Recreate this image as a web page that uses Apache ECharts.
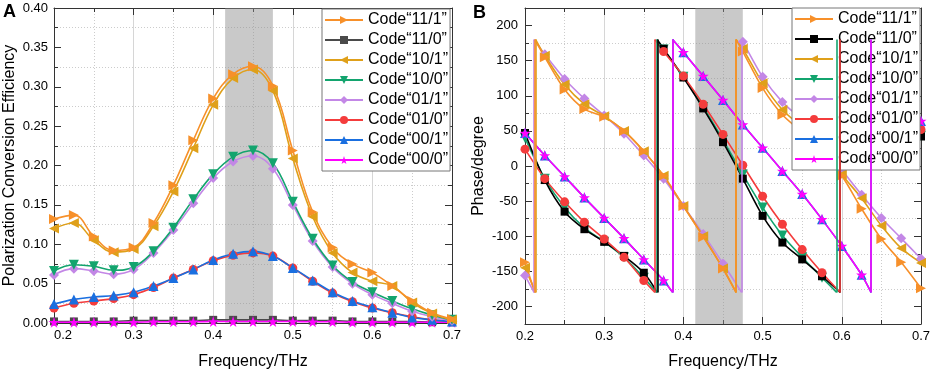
<!DOCTYPE html>
<html>
<head>
<meta charset="utf-8">
<script src="https://cdn.jsdelivr.net/npm/echarts@6/dist/echarts.min.js"></script>
<style>
html,body{margin:0;padding:0;background:#fff}
#main{width:934px;height:375px}
</style>
</head>
<body>
<div id="main"></div>
<script>
// frequency points (THz) where the markers sit
var freqs = [0.2,0.225,0.25,0.275,0.3,0.325,0.35,0.375,0.4,0.425,0.45,0.475,0.5,0.525,0.55,0.575,0.6,0.625,0.65,0.675,0.7];
var names = ['Code\u201c11/1\u201d','Code\u201c11/0\u201d','Code\u201c10/1\u201d','Code\u201c10/0\u201d','Code\u201c01/1\u201d','Code\u201c01/0\u201d','Code\u201c00/1\u201d','Code\u201c00/0\u201d'];
var band = [0.415, 0.475];

// A: polarization conversion efficiency
var eff11_1 = [0.132,0.137,0.110,0.092,0.096,0.127,0.175,0.232,0.285,0.316,0.326,0.301,0.219,0.141,0.096,0.075,0.064,0.047,0.028,0.013,0.005];
var eff11_0 = [0.002,0.002,0.002,0.002,0.003,0.003,0.003,0.003,0.004,0.004,0.004,0.004,0.003,0.003,0.003,0.002,0.002,0.002,0.002,0.001,0.001];
var eff10_1 = [0.120,0.127,0.105,0.090,0.094,0.123,0.167,0.222,0.277,0.311,0.322,0.295,0.209,0.135,0.089,0.064,0.053,0.047,0.026,0.012,0.004];
var eff10_0 = [0.066,0.074,0.072,0.067,0.071,0.091,0.121,0.157,0.189,0.211,0.219,0.203,0.154,0.107,0.073,0.052,0.039,0.028,0.018,0.010,0.004];
var eff01_1 = [0.061,0.069,0.066,0.062,0.068,0.089,0.118,0.152,0.184,0.205,0.212,0.196,0.150,0.104,0.071,0.050,0.036,0.025,0.015,0.008,0.003];
var eff01_0 = [0.019,0.025,0.028,0.031,0.036,0.045,0.057,0.068,0.079,0.086,0.089,0.085,0.070,0.053,0.038,0.027,0.019,0.013,0.008,0.004,0.002];
var eff00_1 = [0.024,0.030,0.033,0.035,0.039,0.047,0.057,0.068,0.080,0.088,0.091,0.085,0.070,0.054,0.039,0.028,0.020,0.013,0.007,0.004,0.002];
var eff00_0 = [0.001,0.001,0.001,0.001,0.001,0.0015,0.0015,0.0015,0.002,0.002,0.002,0.002,0.002,0.0015,0.0015,0.001,0.001,0.001,0.001,0.001,0.001];

// B: phase (degree), plus where each curve wraps from -180 to 180
var phase11_1 = [-137,155,109,81,70,50,21,-14,-57,-101,-146,163,111,73,48,20,-14,-61,-104,-137,-174];
var jump11_1 = [0.2125,0.4665];
var phase11_0 = [47,-20,-65,-90,-108,-128,-152,167,126,82,34,-18,-71,-109,-133,-157,177,142,110,76,42];
var jump11_0 = [0.367,0.598];
var phase10_1 = [-145,157,116,88,71,50,21,-14,-57,-100,-146,167,118,80,55,27,-12,-46,-85,-117,-138];
var jump10_1 = [0.2135,0.4665];
var phase10_0 = [40,-18,-59,-88,-108,-130,-159,166,127,84,37,-12,-59,-99,-130,-159,170,135,103,72,43];
var jump10_0 = [0.366,0.5935];
var phase01_1 = [-156,159,124,96,72,46,15,-18,-57,-97,-139,177,127,91,66,38,-5,-41,-74,-103,-132];
var jump01_1 = [0.2115,0.4735];
var phase01_0 = [24,-18,-51,-80,-104,-130,-163,163,128,88,45,1,-43,-83,-119,-152,177,145,113,82,52];
var jump01_0 = [0.364,0.598];
var phase00_1 = [47,15,-15,-45,-74,-103,-133,-163,162,128,94,59,26,-7,-40,-76,-114,-155,160,112,64];
var jump00_1 = [0.3864,0.637];
var phase00_0 = [47,15,-15,-45,-74,-103,-133,-163,162,128,94,59,26,-7,-40,-76,-114,-155,160,112,64];
var jump00_0 = [0.3864,0.637];

var phaseTicks = [-200,-150,-100,-50,0,50,100,150,200];

var colors = ['#f7902a','#4a4a4a','#dfa01a','#13a46e','#c387e6','#f43c3c','#1a6fe0','#ff00ff'];
var symbols = [
    'path://M0,0L10,5L0,10Z',
    'rect',
    'path://M10,0L0,5L10,10Z',
    'path://M0,0L10,0L5,9Z',
    'path://M5,0L10,5L5,10L0,5Z',
    'circle',
    'path://M5,0L10,9L0,9Z',
    'path://M50,0L61,35L98,35L68,57L79,91L50,70L21,91L32,57L2,35L39,35Z'
];
var symSize = [10,8,10,10,10,9,10,11];

var font = 'Liberation Sans';

function effLine(vals) {
    var out = [];
    for (var i = 0; i < freqs.length; i++) out.push([freqs[i], vals[i]]);
    return out;
}

function phaseLine(vals, jumps) {
    var out = [], j = 0;
    for (var i = 0; i < freqs.length; i++) {
        while (j < jumps.length && jumps[j] < freqs[i]) {
            out.push({value: [jumps[j], -180], symbol: 'none'});
            out.push([jumps[j], '-']);
            out.push({value: [jumps[j], 180], symbol: 'none'});
            j++;
        }
        out.push([freqs[i], vals[i]]);
    }
    return out;
}

function mkSeries(k, panel, data, color, jumps) {
    var s = {
        name: names[k],
        type: 'line',
        xAxisIndex: panel,
        yAxisIndex: panel,
        data: data,
        smooth: panel == 0 ? 0.4 : 0.3,
        symbol: symbols[k],
        symbolSize: symSize[k],
        showSymbol: true,
        color: color,
        lineStyle: {width: 1.6, color: color},
        itemStyle: {color: color},
        emphasis: {disabled: true},
        z: 3
    };
    if (jumps) {
        s.markLine = {
            silent: true,
            symbol: ['none', 'none'],
            label: {show: false},
            lineStyle: {color: color, width: 1.6, type: 'solid'},
            data: jumps.map(function (x) { return [{coord: [x, -180]}, {coord: [x, 180]}]; })
        };
    }
    return s;
}

function bandSeries(panel) {
    return {
        type: 'line', xAxisIndex: panel, yAxisIndex: panel, data: [],
        markArea: {
            silent: true,
            itemStyle: {color: 'rgba(140,140,140,0.47)'},
            data: [[{xAxis: band[0]}, {xAxis: band[1]}]]
        },
        z: 1
    };
}

var effData = [eff11_1, eff11_0, eff10_1, eff10_0, eff01_1, eff01_0, eff00_1, eff00_0];
var phaseData = [phase11_1, phase11_0, phase10_1, phase10_0, phase01_1, phase01_0, phase00_1, phase00_0];
var jumpData = [jump11_1, jump11_0, jump10_1, jump10_0, jump01_1, jump01_0, jump00_1, jump00_0];
var drawOrder = [1, 7, 5, 6, 4, 3, 2, 0];

var series = [bandSeries(0), bandSeries(1)];
drawOrder.forEach(function (k) {
    series.push(mkSeries(k, 0, effLine(effData[k]), colors[k]));
});
[4, 2, 0, 3, 1, 5, 6, 7].forEach(function (k) {
    var c = k == 1 ? '#000000' : colors[k];
    series.push(mkSeries(k, 1, phaseLine(phaseData[k], jumpData[k]), c, jumpData[k]));
});

var axisCol = '#333';
function xAx(grid, pos, main) {
    return {
        type: 'value', gridIndex: grid, position: pos,
        min: 0.2, max: 0.7, interval: 0.1,
        name: main ? 'Frequency/THz' : '',
        nameLocation: 'middle', nameGap: grid == 0 ? 31 : 30,
        nameTextStyle: {fontFamily: font, fontSize: 16, color: '#000'},
        axisLine: {show: true, onZero: false, lineStyle: {color: axisCol, width: 1}},
        axisTick: {show: true, inside: true, length: 7, lineStyle: {color: axisCol}},
        minorTick: {show: true, splitNumber: 2, length: 4, lineStyle: {color: axisCol}},
        axisLabel: {show: main, margin: 6, fontFamily: font, fontSize: 13, color: '#000',
            alignMinLabel: grid == 0 ? 'left' : 'center',
            formatter: function (v) { return v.toFixed(1); }},
        splitLine: {show: main, lineStyle: {color: '#d6d6d6', width: 1}},
        minorSplitLine: {show: main, lineStyle: {color: '#cccccc', width: 1, type: [1, 2]}}
    };
}

var option = {
    animation: false,
    backgroundColor: '#fff',
    grid: [
        {left: 54, right: 482, top: 8, bottom: 51},
        {left: 525, right: 13, top: 8, bottom: 50}
    ],
    xAxis: [xAx(0, 'bottom', true), xAx(1, 'bottom', true), xAx(0, 'top', false), xAx(1, 'top', false)],
    yAxis: [
        {
            type: 'value', gridIndex: 0, position: 'left',
            min: 0, max: 0.4, interval: 0.05,
            name: 'Polarization Conversion Efficiency', nameLocation: 'middle', nameGap: 36,
            nameTextStyle: {fontFamily: font, fontSize: 16, color: '#000'},
            axisLine: {show: true, onZero: false, lineStyle: {color: axisCol, width: 1}},
            axisTick: {show: true, inside: true, length: 7, lineStyle: {color: axisCol}},
            minorTick: {show: true, splitNumber: 2, length: 4, lineStyle: {color: axisCol}},
            axisLabel: {margin: 6, fontFamily: font, fontSize: 13, color: '#000',
                formatter: function (v) { return v.toFixed(2); }},
            splitLine: {show: false},
            minorSplitLine: {show: true, lineStyle: {color: '#cccccc', width: 1, type: [1, 2]}}
        },
        {
            type: 'value', gridIndex: 1, position: 'left',
            min: -225, max: 225, interval: 50,
            name: 'Phase/degree', nameLocation: 'middle', nameGap: 38,
            nameTextStyle: {fontFamily: font, fontSize: 16, color: '#000'},
            axisLine: {show: true, onZero: false, lineStyle: {color: axisCol, width: 1}},
            axisTick: {show: true, inside: true, length: 4, lineStyle: {color: axisCol}},
            minorTick: {show: true, splitNumber: 2, length: 7, lineStyle: {color: axisCol}},
            axisLabel: {margin: 7, fontFamily: font, fontSize: 13, color: '#000', customValues: phaseTicks},
            splitLine: {show: true, lineStyle: {color: '#cccccc', width: 1, type: [1, 2]}},
            minorSplitLine: {show: false}
        },
        {
            type: 'value', gridIndex: 0, position: 'right',
            min: 0, max: 0.4, interval: 0.05,
            axisLine: {show: true, onZero: false, lineStyle: {color: axisCol, width: 1}},
            axisTick: {show: true, inside: true, length: 7, lineStyle: {color: axisCol}},
            minorTick: {show: true, splitNumber: 2, length: 4, lineStyle: {color: axisCol}},
            axisLabel: {show: false}, splitLine: {show: false}
        },
        {
            type: 'value', gridIndex: 1, position: 'right',
            min: -225, max: 225, interval: 50,
            axisLine: {show: true, onZero: false, lineStyle: {color: axisCol, width: 1}},
            axisTick: {show: true, inside: true, length: 4, lineStyle: {color: axisCol}},
            minorTick: {show: true, splitNumber: 2, length: 7, lineStyle: {color: axisCol}},
            axisLabel: {show: false}, splitLine: {show: false}
        }
    ],
    legend: [
        {
            orient: 'vertical', left: 322, top: 9,
            data: names,
            selectedMode: false,
            itemWidth: 38, itemHeight: 10, itemGap: 4,
            padding: [3, 2, 3, 2],
            backgroundColor: '#fff', borderColor: '#777', borderWidth: 1,
            textStyle: {fontFamily: font, fontSize: 16, lineHeight: 16, color: '#000'}
        },
        {
            orient: 'vertical', left: 792, top: 8,
            data: names.map(function (n, i) {
                if (i == 1) return {name: n, itemStyle: {color: '#000'}, lineStyle: {color: '#000'}};
                return n;
            }),
            selectedMode: false,
            itemWidth: 38, itemHeight: 10, itemGap: 4,
            padding: [3, 2, 3, 2],
            backgroundColor: '#fff', borderColor: '#777', borderWidth: 1,
            textStyle: {fontFamily: font, fontSize: 16, lineHeight: 16, color: '#000'}
        }
    ],
    graphic: [
        {type: 'text', left: 3, top: 3, style: {text: 'A', font: 'bold 18px Liberation Sans', fill: '#000'}},
        {type: 'text', left: 473, top: 4, style: {text: 'B', font: 'bold 18px Liberation Sans', fill: '#000'}}
    ],
    series: series
};

var myChart = echarts.init(document.getElementById('main'));
myChart.setOption(option);
</script>
</body>
</html>
